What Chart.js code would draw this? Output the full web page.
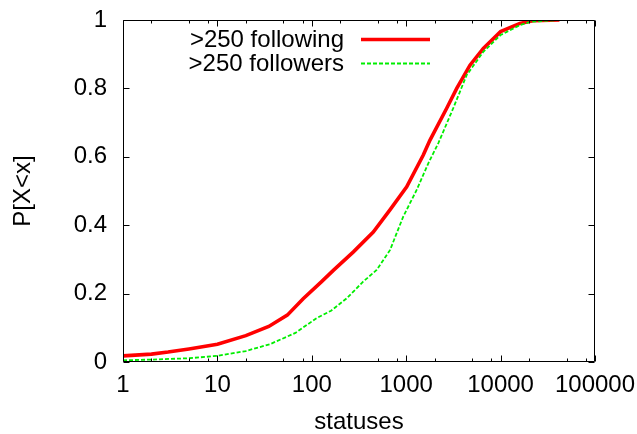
<!DOCTYPE html>
<html><head><meta charset="utf-8">
<script src="https://cdn.jsdelivr.net/npm/chart.js@4/dist/chart.umd.min.js"></script>
<style>html,body{margin:0;padding:0;background:#fff}#wrap{width:637px;height:434px}</style>
</head><body><div id="wrap"><canvas id="c" width="637" height="434"></canvas></div>
<script>
const seriesNames = [">250 following", ">250 followers"];
const followingX = [1, 2, 3, 5, 10, 20, 35, 55, 81, 127, 169, 276, 448, 673, 1012, 1517, 1787, 2685, 3430, 4740, 6560, 10000, 16000, 22000, 42000];
const followingY = [0.018, 0.023, 0.029, 0.038, 0.052, 0.077, 0.104, 0.137, 0.185, 0.235, 0.268, 0.322, 0.38, 0.445, 0.512, 0.605, 0.649, 0.742, 0.80, 0.868, 0.917, 0.966, 0.99, 0.998, 1.0];
const followersX = [1, 2, 5, 10, 20, 36, 67, 112, 160, 234, 350, 486, 673, 930, 1290, 1715, 2190, 3150, 4370, 6560, 10000, 16000, 20800, 42000];
const followersY = [0.005, 0.007, 0.011, 0.018, 0.032, 0.052, 0.085, 0.128, 0.15, 0.186, 0.235, 0.269, 0.327, 0.425, 0.503, 0.581, 0.64, 0.742, 0.839, 0.907, 0.956, 0.985, 0.995, 1.0];
const xTickValues = [1, 10, 100, 1000, 10000, 100000];
const xMinorMultipliers = [2, 5, 8];
const yTickValues = [0, 0.2, 0.4, 0.6, 0.8, 1];
const xTitle = "statuses";
const yTitle = "P[X<x]";

const FONT = {family: '"Liberation Sans", Arial, Helvetica, sans-serif', size: 24};
const toPoints = (xs, ys) => xs.map((x, i) => ({x: x, y: ys[i]}));

const frameTicks = {
  id: 'frameTicks',
  afterDatasetsDraw(chart) {
    const {ctx, chartArea: a, scales: {x, y}} = chart;
    ctx.save();
    ctx.strokeStyle = '#000';
    ctx.lineWidth = 1;
    ctx.setLineDash([]);
    ctx.beginPath();
    const L = Math.round(a.left) + 0.5, R = Math.round(a.right) - 0.5;
    const T = Math.round(a.top) + 0.5, B = Math.round(a.bottom) - 0.5;
    ctx.rect(L, T, R - L, B - T);
    const major = 6, minor = 3;
    xTickValues.forEach(v => {
      const px = Math.round(x.getPixelForValue(v)) + 0.5;
      ctx.moveTo(px, B); ctx.lineTo(px, B - major);
      ctx.moveTo(px, T); ctx.lineTo(px, T + major);
      if (v < xTickValues[xTickValues.length - 1]) {
        xMinorMultipliers.forEach(m => {
          const mx = Math.round(x.getPixelForValue(v * m)) + 0.5;
          ctx.moveTo(mx, B); ctx.lineTo(mx, B - minor);
          ctx.moveTo(mx, T); ctx.lineTo(mx, T + minor);
        });
      }
    });
    yTickValues.forEach(v => {
      const py = Math.round(y.getPixelForValue(v)) + 0.5;
      ctx.moveTo(L, py); ctx.lineTo(L + major, py);
      ctx.moveTo(R, py); ctx.lineTo(R - major, py);
    });
    ctx.stroke();

    // key (gnuplot style: right-aligned text, then sample line)
    ctx.font = FONT.size + 'px ' + FONT.family;
    ctx.textAlign = 'right';
    ctx.textBaseline = 'middle';
    chart.data.datasets.forEach((ds, i) => {
      const ty = a.top + 20 + i * 24;
      const ly = Math.round(a.top + 18.5 + i * 24) + 0.5;
      ctx.fillStyle = '#000';
      ctx.fillText(ds.label, a.left + 221, ty);
      ctx.beginPath();
      ctx.strokeStyle = ds.borderColor;
      ctx.lineWidth = ds.borderWidth;
      ctx.setLineDash(ds.borderDash || []);
      ctx.moveTo(a.left + 238, ly);
      ctx.lineTo(a.left + 307, ly);
      ctx.stroke();
    });
    ctx.restore();
  }
};

new Chart(document.getElementById('c'), {
  type: 'scatter',
  data: {
    datasets: [
      {label: seriesNames[0], data: toPoints(followingX, followingY), showLine: true, borderColor: '#ff0000', backgroundColor: '#ff0000', borderWidth: 3.6, pointRadius: 0, tension: 0, order: 1},
      {label: seriesNames[1], data: toPoints(followersX, followersY), showLine: true, borderColor: '#00ee00', backgroundColor: '#00ee00', borderWidth: 1.8, borderDash: [4, 2], pointRadius: 0, tension: 0, order: 0}
    ]
  },
  options: {
    responsive: false,
    animation: false,
    devicePixelRatio: 1,
    layout: {padding: {left: 0, right: 42, top: 20, bottom: 0}},
    plugins: {legend: {display: false}, tooltip: {enabled: false}},
    scales: {
      x: {
        type: 'logarithmic', min: 1, max: 100000,
        grid: {display: false, drawTicks: false},
        border: {display: false},
        afterBuildTicks: s => { s.ticks = xTickValues.map(v => ({value: v})); },
        afterFit: s => { s.height = 72; s.paddingLeft = 0; s.paddingRight = 0; },
        ticks: {autoSkip: false, maxRotation: 0, padding: 9, color: '#000', font: FONT, callback: v => String(v)},
        title: {display: true, text: xTitle, color: '#000', font: FONT, padding: {top: 0, bottom: -3}}
      },
      y: {
        type: 'linear', min: 0, max: 1,
        grid: {display: false, drawTicks: false},
        border: {display: false},
        afterBuildTicks: s => { s.ticks = yTickValues.map(v => ({value: v})); },
        afterFit: s => { s.width = 123; s.paddingTop = 0; s.paddingBottom = 0; },
        ticks: {padding: 16, color: '#000', font: FONT, callback: v => String(Math.round(v * 10) / 10)},
        title: {display: true, text: yTitle, color: '#000', font: FONT, padding: {top: 9, bottom: 0}}
      }
    }
  },
  plugins: [frameTicks]
});
</script>
</body></html>
